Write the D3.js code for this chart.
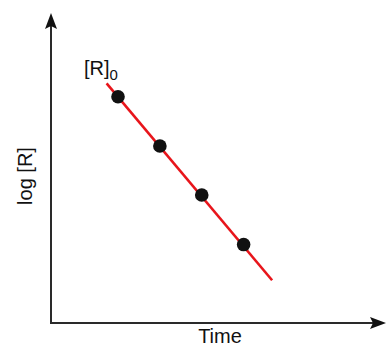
<!DOCTYPE html>
<html>
<head>
<meta charset="utf-8">
<script src="https://cdn.jsdelivr.net/npm/d3@7"></script>
<style>
  body { margin: 0; background: #fff; }
  text { font-family: "Liberation Sans", Arial, sans-serif; fill: #111; }
</style>
</head>
<body>
<div id="container"></div>
<script>
// data, in arbitrary units (no tick labels in the original)
let times = [20, 32.5, 45, 57.5];
let logR = [73, 57.1, 41.3, 25.3];
let fitTimes = [16.6, 66];
let fitLogR = [77.3, 13.8];
let xTitle = 'Time';
let yTitle = 'log [R]';
let startLabel = '[R]';
let startSub = '0';

let width = 386;
let height = 348;
let originX = 51;
let originY = 323;

let svg = d3.select('#container').append('svg')
    .attr('width', width).attr('height', height);

let xScale = d3.scaleLinear().domain([0, 100]).range([originX, 386]);
let yScale = d3.scaleLinear().domain([0, 100]).range([originY, 13]);

// axes with arrow heads
let axisColor = '#2a2a2a';
svg.append('line')
    .attr('x1', originX).attr('y1', originY)
    .attr('x2', originX).attr('y2', yScale(100) + 10)
    .attr('stroke', axisColor).attr('stroke-width', 2);
svg.append('line')
    .attr('x1', originX - 1).attr('y1', originY)
    .attr('x2', xScale(100) - 10).attr('y2', originY)
    .attr('stroke', axisColor).attr('stroke-width', 2);

let tipY = yScale(100);
svg.append('path')
    .attr('d', 'M' + originX + ',' + tipY + ' L' + (originX + 6) + ',' + (tipY + 16) +
        ' L' + originX + ',' + (tipY + 13) + ' L' + (originX - 6) + ',' + (tipY + 16) + 'Z')
    .attr('fill', '#111');
let tipX = xScale(100);
svg.append('path')
    .attr('d', 'M' + tipX + ',' + originY + ' L' + (tipX - 16) + ',' + (originY - 6) +
        ' L' + (tipX - 13) + ',' + originY + ' L' + (tipX - 16) + ',' + (originY + 6) + 'Z')
    .attr('fill', '#111');

// fitted line
let line = d3.line()
    .x(d => xScale(d[0]))
    .y(d => yScale(d[1]));
svg.append('path')
    .datum(fitTimes.map((t, i) => [t, fitLogR[i]]))
    .attr('d', line)
    .attr('fill', 'none')
    .attr('stroke', '#e8151b')
    .attr('stroke-width', 2.6);

// data points
svg.selectAll('.dot')
    .data(times.map((t, i) => [t, logR[i]]))
    .enter().append('circle')
    .attr('class', 'dot')
    .attr('cx', d => xScale(d[0]))
    .attr('cy', d => yScale(d[1]))
    .attr('r', 6.8)
    .attr('fill', '#111');

// labels
let startText = svg.append('text')
    .attr('x', 84).attr('y', 75)
    .style('font-size', '20px');
startText.append('tspan').text(startLabel);
startText.append('tspan').attr('dy', 5).style('font-size', '15px').text(startSub);

svg.append('text')
    .attr('x', 220).attr('y', 343)
    .attr('text-anchor', 'middle')
    .style('font-size', '20px')
    .text(xTitle);

svg.append('text')
    .attr('transform', 'translate(32,176) rotate(-90)')
    .attr('text-anchor', 'middle')
    .style('font-size', '20px')
    .text(yTitle);
</script>
</body>
</html>
